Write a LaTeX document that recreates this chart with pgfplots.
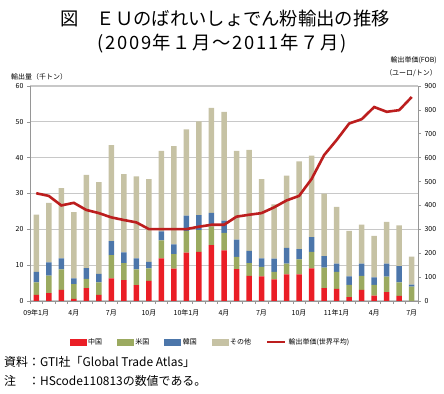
\documentclass[border=0pt]{standalone}
\usepackage{fontspec}
\setmainfont{Noto Sans CJK JP}
\usepackage{pgfplots}
\pgfplotsset{compat=1.18}
\usepackage{pgfplotstable}
\definecolor{cChina}{RGB}{234,30,38}
\definecolor{cUS}{RGB}{155,170,96}
\definecolor{cKorea}{RGB}{76,118,170}
\definecolor{cOther}{RGB}{198,194,164}
\definecolor{cLine}{RGB}{188,30,30}
\definecolor{cGrid}{RGB}{200,200,200}
\definecolor{cAxis}{RGB}{150,150,150}

\pgfplotstableread{
m c u k o p
1 1.7 3.5 2.9 16.0 451
2 2.2 4.9 3.7 16.6 440
3 3.1 5.7 3.1 19.6 400
4 0.6 4.1 1.6 18.5 411
5 3.6 2.6 3.0 26.0 381
6 1.7 3.5 2.4 25.6 368
7 6.3 6.5 3.9 26.8 350
8 5.8 4.8 3.0 21.8 339
9 4.4 4.4 3.1 22.9 329
10 5.6 3.5 1.8 23.1 301
11 11.9 5.0 2.5 22.5 301
12 9.0 4.1 2.7 27.4 301
13 13.5 6.1 4.2 24.1 301
14 13.7 6.1 4.2 26.1 311
15 15.6 5.2 3.8 29.3 319
16 14.1 4.9 3.4 30.4 319
17 8.9 3.4 4.8 24.8 353
18 7.0 3.6 3.4 28.2 361
19 6.9 2.6 2.4 22.1 368
20 6.0 2.1 3.7 15.2 392
21 7.4 3.0 4.4 20.2 421
22 7.4 4.2 2.9 24.5 440
23 9.1 4.6 4.1 22.8 511
24 3.6 5.7 3.2 17.5 611
25 3.4 4.7 2.3 15.9 674
26 1.1 3.4 2.4 12.7 743
27 3.1 3.9 3.4 10.9 761
28 1.5 3.0 2.1 11.6 812
29 2.5 4.3 3.6 11.7 792
30 1.4 3.8 4.5 11.4 799
31 0.0 4.0 0.6 7.8 854
}\data

\begin{document}
\begin{tikzpicture}
\path[use as bounding box] (0,0) rectangle (444bp,394bp);
\node at (225bp,375bp) {\fontsize{18.4}{20}\selectfont 図　ＥＵのばれいしょでん粉輸出の推移};
\node at (222bp,350bp) {\fontsize{18.4}{20}\selectfont\addfontfeature{LetterSpace=9} (2009年１月～2011年７月)};
\node[anchor=west,inner sep=0] at (11bp,317bp) {\fontsize{7}{8}\selectfont 輸出量（千トン）};
\node[anchor=east,inner sep=0] at (437bp,334bp) {\fontsize{7}{8}\selectfont 輸出単価(FOB)};
\node[anchor=east,inner sep=0] at (437bp,321bp) {\fontsize{7}{8}\selectfont （ユーロ/トン）};
\node[anchor=west,inner sep=0] at (4bp,32bp) {\fontsize{12}{14}\selectfont 資料：GTI社「Global Trade Atlas」};
\node[anchor=west,inner sep=0] at (4bp,13bp) {\fontsize{12}{14}\selectfont 注　：HScode110813の数値である。};

\begin{axis}[
  at={(30bp,93bp)}, anchor=south west,
  scale only axis, width=388bp, height=215bp,
  ybar stacked, bar width=5.5bp,
  xmin=0.5, xmax=31.5, ymin=0, ymax=60,
  enlarge x limits=false,
  axis x line*=bottom, axis y line*=left,
  axis line style={cAxis, line width=0.8bp, -},
  xtick={1,4,...,31},
  xticklabels={09年1月,4月,7月,10月,10年1月,4月,7月,10月,11年1月,4月,7月},
  minor xtick={0.5,1.5,...,31.5},
  major x tick style={draw=none},
  minor x tick style={cAxis, line width=0.6bp},
  minor tick length=3bp,
  ytick={0,10,...,60},
  major tick length=3bp,
  tick align=outside,
  y tick style={cAxis, line width=0.6bp},
  ymajorgrids, grid style={cGrid, line width=1.2bp},
  tick label style={font=\fontsize{7}{8}\selectfont, /pgf/number format/assume math mode=true},
  xticklabel style={yshift=-2bp},
  every axis plot/.append style={draw=none},
]
\addplot[fill=cChina] table[x=m,y=c]{\data};
\addplot[fill=cUS] table[x=m,y=u]{\data};
\addplot[fill=cKorea] table[x=m,y=k]{\data};
\addplot[fill=cOther] table[x=m,y=o]{\data};
\end{axis}

\begin{axis}[
  at={(30bp,93bp)}, anchor=south west,
  scale only axis, width=388bp, height=215bp,
  xmin=0.5, xmax=31.5, ymin=0, ymax=900,
  axis x line=none, axis y line*=right,
  axis line style={cAxis, line width=0.8bp, -},
  ytick={0,100,...,900},
  major tick length=3bp, tick align=outside,
  y tick style={cAxis, line width=0.6bp},
  tick label style={font=\fontsize{7}{8}\selectfont, /pgf/number format/assume math mode=true},
  legend columns=5,
  legend style={draw=none, fill=none, at={(0.465,-0.19)}, anchor=center,
    font=\fontsize{7}{8}\selectfont,
    /tikz/every even column/.append style={column sep=13bp}},
]
\addlegendimage{legend image code/.code={\fill[cChina] (0bp,-3bp) rectangle (16bp,3bp);}}
\addlegendentry{中国}
\addlegendimage{legend image code/.code={\fill[cUS] (0bp,-3bp) rectangle (16bp,3bp);}}
\addlegendentry{米国}
\addlegendimage{legend image code/.code={\fill[cKorea] (0bp,-3bp) rectangle (16bp,3bp);}}
\addlegendentry{韓国}
\addlegendimage{legend image code/.code={\fill[cOther] (0bp,-3bp) rectangle (16bp,3bp);}}
\addlegendentry{その他}
\addplot[cLine, line width=2.6bp, mark=none,
  legend image code/.code={\draw[cLine, line width=2.6bp] (0bp,0bp) -- (18bp,0bp);}]
  table[x=m,y=p]{\data};
\addlegendentry{輸出単価(世界平均)}
\end{axis}
\end{tikzpicture}
\end{document}
